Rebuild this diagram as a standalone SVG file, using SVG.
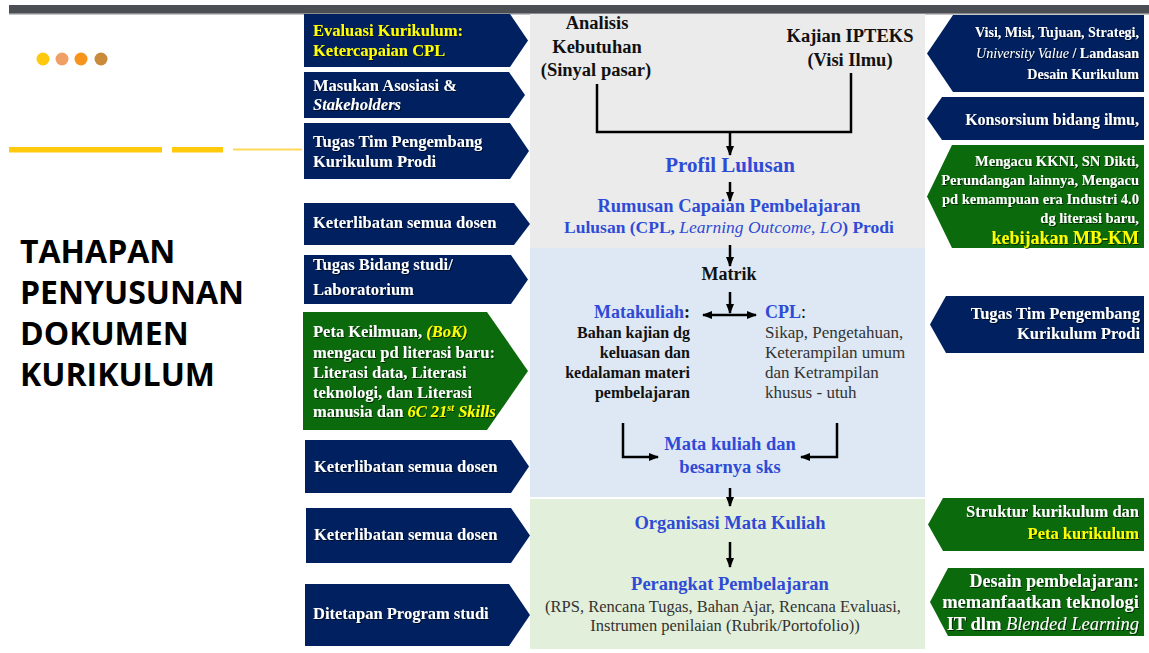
<svg xmlns="http://www.w3.org/2000/svg" width="1149" height="653" viewBox="0 0 1149 653">
<defs>
<style>
.nav{fill:#002060}
.grn{fill:#0b6a0b}
.wt{font-family:"Liberation Serif",serif;font-weight:bold;fill:#fff;font-size:16.5px;filter:url(#sh)}
.yl{fill:#ffff00}
.it{font-style:italic}
.bl{font-family:"Liberation Serif",serif;font-weight:bold;fill:#2f4bd6}
.bk{font-family:"Liberation Serif",serif;font-weight:bold;fill:#111}
.rg{font-family:"Liberation Serif",serif;fill:#333}
.ttl{font-family:"Open Sans",sans-serif;font-weight:bold;font-size:32px;fill:#000}
.ln{fill:none;stroke:#000;stroke-width:2.5}
</style>
<filter id="sh" x="-5%" y="-20%" width="110%" height="140%">
<feDropShadow dx="1" dy="1" stdDeviation="0.4" flood-color="#000" flood-opacity="0.6"/>
</filter>
<marker id="ah" markerUnits="userSpaceOnUse" markerWidth="10" markerHeight="10" refX="9" refY="4" orient="auto-start-reverse">
<path d="M0,0 L10,4 L0,8 z" fill="#000"/>
</marker>
</defs>
<rect width="1149" height="653" fill="#fff"/>
<rect x="9" y="5" width="1140" height="9" fill="#4b4e53"/>
<rect x="9" y="13" width="1140" height="1.5" fill="#8a8c90"/>
<g id="decor">
<circle cx="43" cy="59" r="6.5" fill="#ffc90e"/>
<circle cx="62" cy="59" r="6.5" fill="#f0a066"/>
<circle cx="81" cy="59" r="6.5" fill="#f7941d"/>
<circle cx="101" cy="59" r="6.5" fill="#c98b3a"/>
<rect x="9" y="147" width="153" height="5.5" fill="#ffc90e"/>
<rect x="172" y="147" width="51" height="5.5" fill="#ffc90e"/>
<rect x="233" y="148.5" width="69" height="2" fill="#ffd95a"/>
</g>
<g id="title">
<text class="ttl" x="20" y="263">TAHAPAN</text>
<text class="ttl" x="20" y="304">PENYUSUNAN</text>
<text class="ttl" x="20" y="345">DOKUMEN</text>
<text class="ttl" x="20" y="386">KURIKULUM</text>
</g>
<g id="panels">
<rect x="530" y="14" width="395" height="234" fill="#ebebeb"/>
<rect x="530" y="248" width="395" height="249" fill="#dde8f4"/>
<rect x="530" y="499" width="395" height="150" fill="#e2efda"/>
</g>
<g id="left-boxes">
<g id="L1"><polygon class="nav" points="304,14 510,14 528,40.5 510,67 304,67"/>
<text class="wt yl" x="313" y="36">Evaluasi Kurikulum:</text>
<text class="wt yl" x="313" y="56">Ketercapaian CPL</text></g>
<g id="L2"><polygon class="nav" points="304,72 509,72 525,95 509,118 304,118"/>
<text class="wt" x="313" y="91">Masukan  Asosiasi &amp;</text>
<text class="wt it" x="313" y="110">Stakeholders</text></g>
<g id="L3"><polygon class="nav" points="304,123 510,123 529,151 510,179 304,179"/>
<text class="wt" x="313" y="147">Tugas Tim Pengembang</text>
<text class="wt" x="313" y="167">Kurikulum Prodi</text></g>
<g id="L4"><polygon class="nav" points="304,203 514,203 530,224 514,245 304,245"/>
<text class="wt" x="313" y="228">Keterlibatan semua dosen</text></g>
<g id="L5"><polygon class="nav" points="304,255 511,255 528,279.5 511,304 304,304"/>
<text class="wt" x="313" y="270">Tugas Bidang studi/</text>
<text class="wt" x="313" y="295">Laboratorium</text></g>
<g id="L6"><polygon class="grn" points="303,312 487,312 528,371 487,430 303,430"/>
<text class="wt" x="313" y="337">Peta Keilmuan, <tspan class="yl it">(BoK)</tspan></text>
<text class="wt" x="313" y="358">mengacu pd literasi baru:</text>
<text class="wt" x="313" y="378">Literasi data, Literasi</text>
<text class="wt" x="313" y="398">teknologi, dan Literasi</text>
<text class="wt" x="313" y="417">manusia dan <tspan class="yl it">6C 21</tspan><tspan class="yl it" dy="-6" style="font-size:10px">st</tspan><tspan class="yl it" dy="6"> Skills</tspan></text></g>
<g id="L7"><polygon class="nav" points="305,440 511,440 529,466.5 511,493 305,493"/>
<text class="wt" x="314" y="472">Keterlibatan semua dosen</text></g>
<g id="L8"><polygon class="nav" points="306,508 511,508 530,535.5 511,563 306,563"/>
<text class="wt" x="314" y="540">Keterlibatan semua dosen</text></g>
<g id="L9"><polygon class="nav" points="305,584 509,584 530,615 509,646 305,646"/>
<text class="wt" x="313" y="619">Ditetapan Program studi</text></g>
</g>
<g id="right-boxes">
<g id="R1"><polygon class="nav" points="1144,15 953,15 927,53.5 953,92 1144,92"/>
<text class="wt" x="1139" y="37" text-anchor="end" style="font-size:14px">Visi, Misi, Tujuan, Strategi,</text>
<text class="wt" x="1139" y="58" text-anchor="end" style="font-size:14px"><tspan class="it" font-weight="normal">University Value</tspan> / Landasan</text>
<text class="wt" x="1139" y="79" text-anchor="end" style="font-size:14px">Desain Kurikulum</text></g>
<g id="R2"><polygon class="nav" points="1144,97 942,97 927,118.5 942,140 1144,140"/>
<text class="wt" x="1139" y="125" text-anchor="end" style="font-size:16px">Konsorsium bidang ilmu,</text></g>
<g id="R3"><polygon class="grn" points="1144,145 952,145 927,196.5 952,248 1144,248"/>
<text class="wt" x="1139" y="166" text-anchor="end" style="font-size:14.5px">Mengacu KKNI, SN Dikti,</text>
<text class="wt" x="1139" y="185" text-anchor="end" style="font-size:14.5px">Perundangan lainnya, Mengacu</text>
<text class="wt" x="1139" y="204" text-anchor="end" style="font-size:14.5px">pd kemampuan era Industri 4.0</text>
<text class="wt" x="1139" y="223" text-anchor="end" style="font-size:14.5px">dg literasi baru,</text>
<text class="wt yl" x="1139" y="244" text-anchor="end" style="font-size:18px">kebijakan MB-KM</text></g>
<g id="R4"><polygon class="nav" points="1144,296 946,296 930,324.5 946,353 1144,353"/>
<text class="wt" x="1140" y="319" text-anchor="end">Tugas Tim Pengembang</text>
<text class="wt" x="1140" y="339" text-anchor="end">Kurikulum Prodi</text></g>
<g id="R5"><polygon class="grn" points="1144,498 943,498 928,524.5 943,551 1144,551"/>
<text class="wt" x="1139" y="517" text-anchor="end">Struktur kurikulum dan</text>
<text class="wt yl" x="1139" y="539" text-anchor="end">Peta kurikulum</text></g>
<g id="R6"><polygon class="grn" points="1144,568 948,568 930,602 948,636 1144,636"/>
<text class="wt" x="1139" y="587" text-anchor="end" style="font-size:18px">Desain pembelajaran:</text>
<text class="wt" x="1139" y="608" text-anchor="end" style="font-size:18.5px">memanfaatkan teknologi</text>
<text class="wt" x="1139" y="630" text-anchor="end" style="font-size:18.5px">IT dlm <tspan class="it" font-weight="normal">Blended Learning</tspan></text></g>
</g>
<g id="center-nodes">
<g id="n-analisis">
<text class="bk" x="597" y="29" text-anchor="middle" font-size="18.5">Analisis</text>
<text class="bk" x="597" y="53" text-anchor="middle" font-size="18.5">Kebutuhan</text>
<text class="bk" x="596" y="76" text-anchor="middle" font-size="18.5">(Sinyal pasar)</text></g>
<g id="n-ipteks">
<text class="bk" x="850" y="42" text-anchor="middle" font-size="18.5">Kajian IPTEKS</text>
<text class="bk" x="850" y="66" text-anchor="middle" font-size="18.5">(Visi Ilmu)</text></g>
<g id="n-profil"><text class="bl" x="730" y="172" text-anchor="middle" font-size="21">Profil Lulusan</text></g>
<g id="n-rumusan">
<text class="bl" x="729" y="212" text-anchor="middle" font-size="18.5">Rumusan Capaian Pembelajaran</text>
<text class="bl" x="729" y="233" text-anchor="middle" font-size="17.5">Lulusan (CPL, <tspan class="it" font-weight="normal">Learning Outcome, LO</tspan>) Prodi</text></g>
<g id="n-matrik"><text class="bk" x="729" y="280" text-anchor="middle" font-size="18">Matrik</text></g>
<g id="n-matakuliah">
<text class="bl" x="690" y="318" text-anchor="end" font-size="18">Matakuliah<tspan fill="#111">:</tspan></text>
<text class="bk" x="690" y="338" text-anchor="end" font-size="16">Bahan kajian dg</text>
<text class="bk" x="690" y="358" text-anchor="end" font-size="16">keluasan dan</text>
<text class="bk" x="690" y="378" text-anchor="end" font-size="16">kedalaman materi</text>
<text class="bk" x="690" y="398" text-anchor="end" font-size="16">pembelajaran</text></g>
<g id="n-cpl">
<text class="bl" x="765" y="318" font-size="18">CPL<tspan fill="#111" font-weight="normal">:</tspan></text>
<text class="rg" x="765" y="338" font-size="17">Sikap, Pengetahuan,</text>
<text class="rg" x="765" y="358" font-size="17">Keterampilan umum</text>
<text class="rg" x="765" y="378" font-size="17">dan Ketrampilan</text>
<text class="rg" x="765" y="398" font-size="17">khusus - utuh</text></g>
<g id="n-sks">
<text class="bl" x="730" y="450" text-anchor="middle" font-size="18.5">Mata kuliah dan</text>
<text class="bl" x="730" y="473" text-anchor="middle" font-size="18.5">besarnya sks</text></g>
<g id="n-organisasi"><text class="bl" x="730" y="529" text-anchor="middle" font-size="18.5">Organisasi Mata Kuliah</text></g>
<g id="n-perangkat">
<text class="bl" x="730" y="590" text-anchor="middle" font-size="18.5">Perangkat Pembelajaran</text>
<text class="rg" x="723" y="612" text-anchor="middle" font-size="16.5">(RPS, Rencana Tugas, Bahan Ajar, Rencana Evaluasi,</text>
<text class="rg" x="725" y="631" text-anchor="middle" font-size="16.5">Instrumen penilaian (Rubrik/Portofolio))</text></g>
</g>
<g id="connectors">
<path class="ln" d="M597,84 V132 H851 V73"/>
<path class="ln" d="M730,132 V155" marker-end="url(#ah)"/>
<path class="ln" d="M730,182 V201" marker-end="url(#ah)"/>
<path class="ln" d="M730,245 V266" marker-end="url(#ah)"/>
<path class="ln" d="M730,292 V313" marker-end="url(#ah)"/>
<path class="ln" d="M703,315 H756" marker-start="url(#ah)" marker-end="url(#ah)"/>
<path class="ln" d="M623,423 V457 H658" marker-end="url(#ah)"/>
<path class="ln" d="M837,423 V457 H801" marker-end="url(#ah)"/>
<path class="ln" d="M730,488 V506" marker-end="url(#ah)"/>
<path class="ln" d="M730,542 V567" marker-end="url(#ah)"/>
</g>
</svg>
